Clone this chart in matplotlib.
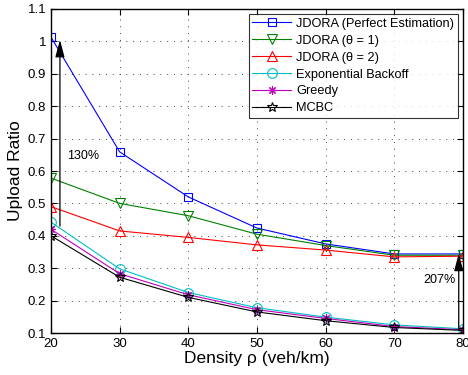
import matplotlib
matplotlib.use("Agg")
import matplotlib.pyplot as plt

# density (veh/km)
density = [20, 30, 40, 50, 60, 70, 80]

# upload ratio per scheme
jdora_perfect = [1.013, 0.659, 0.520, 0.424, 0.375, 0.344, 0.344]
jdora_theta1 = [0.578, 0.500, 0.462, 0.405, 0.370, 0.340, 0.340]
jdora_theta2 = [0.490, 0.415, 0.395, 0.372, 0.356, 0.335, 0.337]
exp_backoff = [0.442, 0.298, 0.225, 0.178, 0.149, 0.125, 0.113]
greedy = [0.420, 0.283, 0.218, 0.172, 0.145, 0.120, 0.110]
mcbc = [0.400, 0.272, 0.210, 0.165, 0.138, 0.117, 0.108]

labels = [
    "JDORA (Perfect Estimation)",
    "JDORA (\u03b8 = 1)",
    "JDORA (\u03b8 = 2)",
    "Exponential Backoff",
    "Greedy",
    "MCBC",
]

plt.rcParams["font.family"] = ["Liberation Sans", "DejaVu Sans"]

fig = plt.figure(figsize=(4.68, 3.75), dpi=100)
ax = fig.add_axes([0.109, 0.112, 0.880, 0.864])

series = [jdora_perfect, jdora_theta1, jdora_theta2, exp_backoff, greedy, mcbc]
colors = ["#0000ff", "#008000", "#ff0000", "#00bfbf", "#bf00bf", "#000000"]
markers = ["s", "v", "^", "o", (8, 2, 0), "*"]
sizes = [6, 7, 7, 7, 6, 7]

for ys, lab, c, m, ms in zip(series, labels, colors, markers, sizes):
    ax.plot(density, ys, color=c, lw=0.8, marker=m, markersize=ms,
            markerfacecolor="none", markeredgecolor=c, markeredgewidth=0.8,
            label=lab)

# improvement arrows
arrow = dict(arrowstyle="-|>,head_length=0.75,head_width=0.2",
             color="black", lw=0.9, mutation_scale=14, shrinkA=0, shrinkB=0)
ax.annotate("", xy=(21.3, 1.005), xytext=(21.3, 0.43), arrowprops=arrow)
ax.text(22.4, 0.645, "130%", fontsize=9, va="center")
ax.annotate("", xy=(79.4, 0.345), xytext=(79.4, 0.11), arrowprops=arrow)
ax.text(74.2, 0.265, "207%", fontsize=9, va="center")

ax.set_xlim(20, 80)
ax.set_ylim(0.1, 1.1)
ax.set_xticks(density)
ax.set_yticks([0.1, 0.2, 0.3, 0.4, 0.5, 0.6, 0.7, 0.8, 0.9, 1.0, 1.1])
ax.set_yticklabels(["0.1", "0.2", "0.3", "0.4", "0.5", "0.6", "0.7",
                    "0.8", "0.9", "1", "1.1"])
ax.tick_params(direction="in", top=True, right=True, labelsize=9.5,
               length=4, width=0.8)
for sp in ax.spines.values():
    sp.set_linewidth(1.0)
ax.grid(True, linestyle=(0, (1, 6)), color="#444444", lw=0.7)

ax.set_xlabel("Density \u03c1 (veh/km)", fontsize=12.5, labelpad=1)
ax.set_ylabel("Upload Ratio", fontsize=12.5, labelpad=3)

leg = ax.legend(loc="upper right", fontsize=9.2, frameon=True, fancybox=False,
                edgecolor="black", borderaxespad=0.4, handlelength=3.0,
                handletextpad=0.4, labelspacing=0.38, borderpad=0.3)
leg.get_frame().set_linewidth(0.8)

fig.savefig("out.png", dpi=100)
